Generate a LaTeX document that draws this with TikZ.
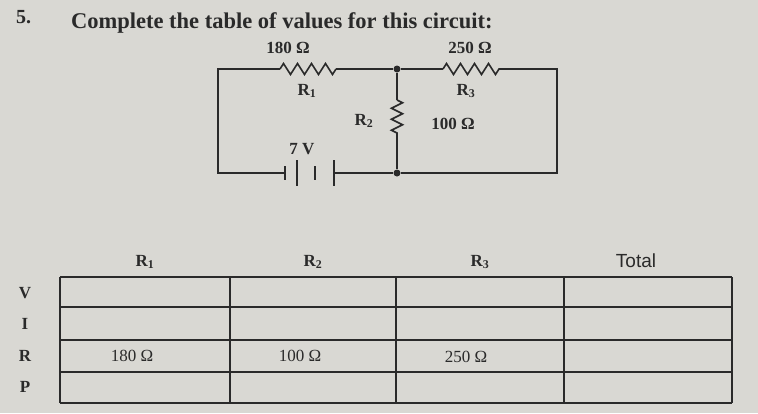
\documentclass[tikz,border=0pt]{standalone}
\usepackage{fontspec}
\setmainfont{Liberation Serif}
\newfontfamily\sansf{Liberation Sans}
\usetikzlibrary{decorations.pathmorphing}
\definecolor{paper}{HTML}{D9D8D3}
\definecolor{ink}{HTML}{2A2A2A}
\begin{document}
\begin{tikzpicture}[x=1pt,y=-1pt,line width=1.6pt,draw=ink,
  lbl/.style={text=ink,font=\bfseries\fontsize{17}{20}\selectfont},
  cellv/.style={text=ink,font=\fontsize{17}{20}\selectfont},
  res/.style={decorate,decoration={zigzag,segment length=14pt,amplitude=5.5pt}},
  dot/.style={circle,fill=ink,inner sep=0pt,minimum size=7pt}]
\fill[paper] (0,0) rectangle (758,413);
\useasboundingbox (0,0) rectangle (758,413);
\node[lbl,anchor=west,font=\bfseries\fontsize{20}{22}\selectfont] (num) at (12,17) {5.};
\node[lbl,anchor=west,font=\bfseries\fontsize{22.5}{25}\selectfont] (title) at (67,23) {Complete the table of values for this circuit:};
% circuit
\coordinate (tl) at (218,69); \coordinate (bl) at (218,173);
\coordinate (tr) at (557,69); \coordinate (br) at (557,173);
\node[dot] (jt) at (397,69) {}; \node[dot] (jb) at (397,173) {};
\coordinate (r1a) at (280,69); \coordinate (r1b) at (336,69);
\coordinate (r3a) at (443,69); \coordinate (r3b) at (501,69);
\coordinate (r2a) at (397,100); \coordinate (r2b) at (397,138);
\coordinate (ba) at (285,173); \coordinate (bb) at (334,173);
\draw (r1b) -- (jt) -- (r3a); \draw (r3b) -- (tr) -- (br) -- (jb) -- (bb);
\draw (r1a) -- (tl) -- (bl) -- (ba);
\draw (jt) -- (r2a); \draw (r2b) -- (jb);
\draw[res] (r1a) -- (r1b); \draw[res] (r3a) -- (r3b);
\draw[res,decoration={segment length=11pt}] (r2a) -- (r2b);
\draw (285,166) -- (285,180); \draw (297,160) -- (297,186);
\draw (315,166) -- (315,180); \draw (334,160) -- (334,186);
\node[lbl] (v) at (302,149) {7 V};
\node[lbl] (l1) at (288,48) {180 Ω};
\node[lbl] (l3) at (470,48) {250 Ω};
\node[lbl] (n1) at (307,91) {R\textsubscript{1}};
\node[lbl] (n3) at (466,91) {R\textsubscript{3}};
\node[lbl] (n2) at (364,121) {R\textsubscript{2}};
\node[lbl] (l2) at (453,124) {100 Ω};
% table
\begin{scope}[line width=2.2pt]
\foreach \y in {277,307,340,372,403} \draw (60,\y) -- (732,\y);
\foreach \x in {60,230,396,564,732} \draw (\x,277) -- (\x,403);
\end{scope}
\node[lbl] (h1) at (145,262) {R\textsubscript{1}};
\node[lbl] (h2) at (313,262) {R\textsubscript{2}};
\node[lbl] (h3) at (480,262) {R\textsubscript{3}};
\node[lbl,font=\sansf\fontsize{19}{22}\selectfont] (h4) at (636,261) {Total};
\node[lbl] (rv) at (25,293) {V};
\node[lbl] (ri) at (25,324) {I};
\node[lbl] (rr) at (25,356) {R};
\node[lbl] (rp) at (25,387) {P};
\node[cellv] (c1) at (132,356) {180 Ω};
\node[cellv] (c2) at (300,356) {100 Ω};
\node[cellv] (c3) at (466,357) {250 Ω};
\end{tikzpicture}
\end{document}
